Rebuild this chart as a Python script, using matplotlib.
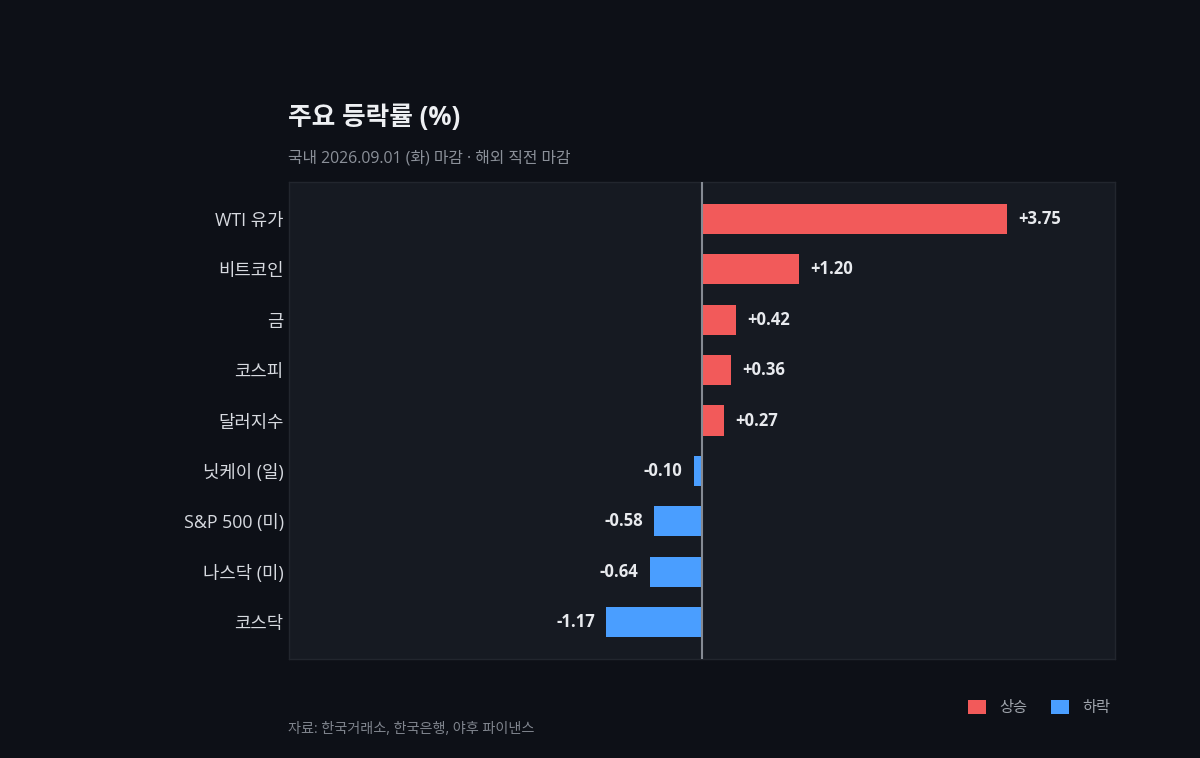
import matplotlib
matplotlib.use("Agg")
import matplotlib.pyplot as plt
from matplotlib.patches import Patch

plt.rcParams["font.family"] = ["Open Sans", "Noto Sans CJK KR", "DejaVu Sans"]

# data
categories = ["WTI 유가", "비트코인", "금", "코스피", "달러지수",
              "닛케이 (일)", "S&P 500 (미)", "나스닥 (미)", "코스닥"]
changes = [3.75, 1.20, 0.42, 0.36, 0.27, -0.10, -0.58, -0.64, -1.17]

title = "주요 등락률 (%)"
subtitle = "국내 2026.09.01 (화) 마감 · 해외 직전 마감"
source = "자료: 한국거래소, 한국은행, 야후 파이낸스"
legend_labels = ["상승", "하락"]

BG = "#0d1017"
PANEL = "#161a22"
UP = "#f25a5a"
DOWN = "#4a9eff"

fig = plt.figure(figsize=(12, 7.58), dpi=100, facecolor=BG)
ax = fig.add_axes([0.2405, 0.1306, 0.6885, 0.6293])
ax.set_facecolor(PANEL)

ypos = list(range(len(categories)))
colors = [UP if v >= 0 else DOWN for v in changes]
ax.barh(ypos, changes, height=0.6, color=colors, zorder=2)
ax.axvline(0, color="#858a93", linewidth=1.5, zorder=3)

for y, v in zip(ypos, changes):
    label = f"{v:+.2f}"
    if v >= 0:
        ax.annotate(label, xy=(v, y), xytext=(8, 0), textcoords="offset points",
                    ha="left", va="center", color="#e8eaee", fontsize=12,
                    fontweight="bold")
    else:
        ax.annotate(label, xy=(v, y), xytext=(-8, 0), textcoords="offset points",
                    ha="right", va="center", color="#e8eaee", fontsize=12,
                    fontweight="bold")

ax.set_xlim(-5.07, 5.07)
ax.set_ylim(len(categories) - 1 + 0.73, -0.73)
ax.set_yticks(ypos)
ax.set_yticklabels(categories, fontsize=12.8, color="#d7dae0")
ax.set_xticks([])
ax.tick_params(axis="y", length=0, pad=3.5)
for s in ax.spines.values():
    s.set_color("#22262e")
    s.set_linewidth(1)

fig.text(0.24, 0.845, title, fontsize=18.5, fontweight="bold", color="#eef0f3",
         ha="left", va="center")
fig.text(0.24, 0.791, subtitle, fontsize=11.4, color="#8b9099",
         ha="left", va="center")
fig.text(0.24, 0.037, source, fontsize=10.2, color="#80858e",
         ha="left", va="center")

handles = [Patch(facecolor=UP), Patch(facecolor=DOWN)]
fig.legend(handles, legend_labels, loc="center right", bbox_to_anchor=(0.937, 0.066),
           ncol=2, frameon=False, fontsize=11, labelcolor="#a0a5ad",
           handlelength=1.2, handleheight=1.0, columnspacing=1.5, handletextpad=0.9)

fig.savefig("out.png", dpi=100, facecolor=BG)
